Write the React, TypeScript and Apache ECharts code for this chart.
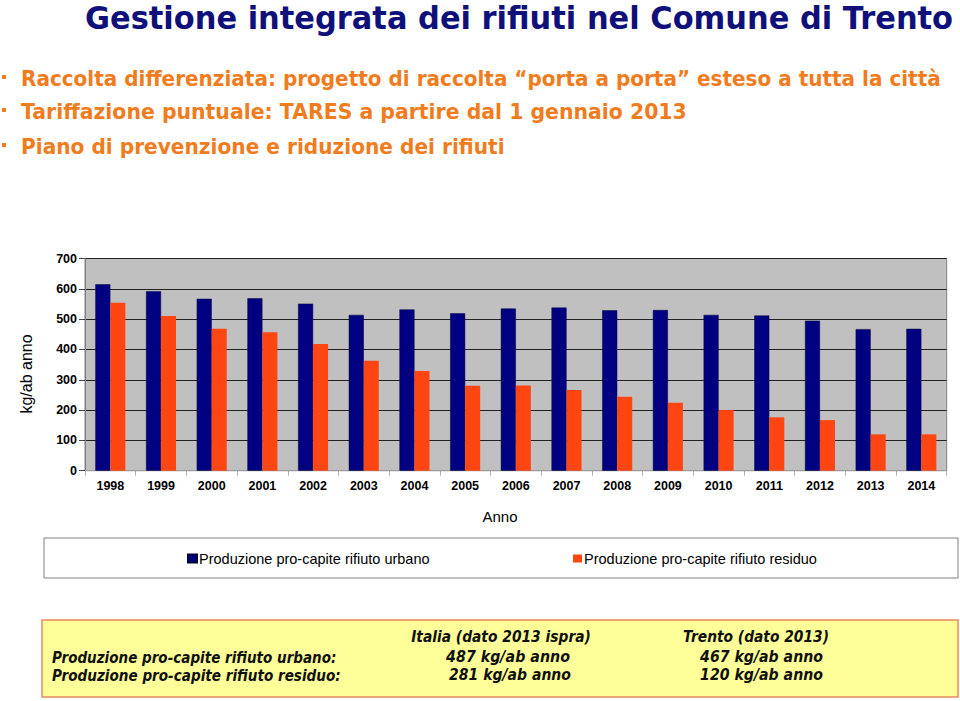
import React, { useEffect, useRef } from "react";
import * as echarts from "echarts";

const years = ["1998","1999","2000","2001","2002","2003","2004","2005","2006","2007","2008","2009","2010","2011","2012","2013","2014"];
const urbano = [615,592,567,569,551,514,532,519,535,538,529,530,514,512,495,467,468];
const residuo = [554,510,468,457,418,363,329,280,281,266,244,224,200,176,167,120,120];
const seriesNames = ["Produzione pro-capite rifiuto urbano", "Produzione pro-capite rifiuto residuo"];
const title = "Gestione integrata dei rifiuti nel Comune di Trento";
const bullets = [
  "Raccolta differenziata: progetto di raccolta \u201Cporta a porta\u201D esteso a tutta la città",
  "Tariffazione puntuale: TARES a partire dal 1 gennaio 2013",
  "Piano di prevenzione e riduzione dei rifiuti",
];
const tableHeaders = ["Italia (dato 2013 ispra)", "Trento (dato 2013)"];
const tableRows = ["Produzione pro-capite rifiuto urbano:", "Produzione pro-capite rifiuto residuo:"];
const italiaValues = ["487 kg/ab anno", "281 kg/ab anno"];
const trentoValues = ["467 kg/ab anno", "120 kg/ab anno"];

const NAVY = "#000080";
const ORANGE = "#FF4512";
const TXT_ORANGE = "#F07C1E";

function measure(text: string, font: string): number {
  const c = document.createElement("canvas").getContext("2d");
  if (!c) return text.length * 10;
  c.font = font;
  return c.measureText(text).width;
}

function fitText(text: string, x: number, y: number, target: number, size: number, opts: any) {
  const weight = opts.weight || "bold";
  const style = opts.italic ? "italic " : "";
  const fam = "DejaVu Sans";
  const w = measure(text, `${style}${weight} ${size}px "${fam}"`);
  const sx = target / w;
  return {
    type: "text",
    x,
    y,
    scaleX: sx,
    z: 10,
    style: {
      text,
      fill: opts.color,
      fontFamily: fam,
      fontWeight: weight,
      fontStyle: opts.italic ? "italic" : "normal",
      fontSize: size,
      textAlign: opts.align || "left",
      textVerticalAlign: "middle",
      verticalAlign: "middle",
    },
  };
}

export default function App() {
  const ref = useRef<HTMLDivElement>(null);
  useEffect(() => {
    if (!ref.current) return;
    const chart = echarts.init(ref.current, null, { renderer: "svg" });
    const bulletY = [78, 111, 146];
    const bulletW = [921, 666, 484];
    const graphic: any[] = [];
    graphic.push(fitText(title, 85, 18, 868, 32, { color: "#10107A" }));
    bullets.forEach((b, i) => {
      graphic.push({ type: "rect", shape: { x: 2, y: bulletY[i] - 3, width: 4, height: 4 }, style: { fill: TXT_ORANGE } });
      graphic.push(fitText(b, 21, bulletY[i], bulletW[i], 22, { color: TXT_ORANGE }));
    });
    graphic.push({
      type: "text", x: 26, y: 374, rotation: Math.PI / 2,
      style: { text: "kg/ab anno", fill: "#000", fontFamily: "Liberation Sans", fontSize: 16, textAlign: "center", textVerticalAlign: "middle", verticalAlign: "middle" },
    });
    graphic.push({
      type: "text", x: 500, y: 516,
      style: { text: "Anno", fill: "#000", fontFamily: "Liberation Sans", fontSize: 15, textAlign: "center", textVerticalAlign: "middle", verticalAlign: "middle" },
    });
    graphic.push({ type: "rect", z: 0, shape: { x: 44, y: 538, width: 914, height: 40 }, style: { fill: "#fff", stroke: "#808080", lineWidth: 1 } });
    graphic.push({ type: "rect", z: 0, shape: { x: 42, y: 620, width: 916, height: 77 }, style: { fill: "#FFFF99", stroke: "#E98A5C", lineWidth: 1.5 } });
    const tc = { color: "#111", italic: true };
    graphic.push(fitText(tableHeaders[0], 501, 637, 180, 16, { ...tc, align: "center" }));
    graphic.push(fitText(tableHeaders[1], 756, 637, 146, 16, { ...tc, align: "center" }));
    graphic.push(fitText(tableRows[0], 52, 657, 285, 16, tc));
    graphic.push(fitText(tableRows[1], 52, 675, 289, 16, tc));
    graphic.push(fitText(italiaValues[0], 508, 657, 124, 16, { ...tc, align: "center" }));
    graphic.push(fitText(italiaValues[1], 510, 675, 122, 16, { ...tc, align: "center" }));
    graphic.push(fitText(trentoValues[0], 761.5, 657, 123, 16, { ...tc, align: "center" }));
    graphic.push(fitText(trentoValues[1], 761.5, 675, 123, 16, { ...tc, align: "center" }));

    const legendCommon = {
      orient: "horizontal",
      top: 551,
      icon: "rect",
      itemWidth: 9,
      itemHeight: 8,
      textStyle: { fontFamily: "Liberation Sans", fontSize: 14.5, color: "#000", padding: [0, 0, 0, -3] },
      z: 20,
    };

    chart.setOption({
      animation: false,
      backgroundColor: "#fff",
      graphic,
      legend: [
        { ...legendCommon, left: 182, top: 546, data: [seriesNames[0]] },
        { ...legendCommon, left: 568, top: 546, data: [seriesNames[1]] },
      ],
      grid: {
        left: 85, top: 258.5, width: 861.7, height: 212.2,
        show: true, backgroundColor: "#C0C0C0", borderColor: "#808080", borderWidth: 1,
      },
      xAxis: {
        type: "category",
        data: years,
        axisLine: { lineStyle: { color: "#9a9a9a" } },
        axisTick: { show: true, alignWithLabel: false, length: 5, lineStyle: { color: "#b0b0b0" } },
        axisLabel: { fontFamily: "Liberation Sans", fontWeight: "bold", fontSize: 12.5, color: "#000", margin: 9 },
      },
      yAxis: {
        type: "value",
        min: 0, max: 700, interval: 100,
        axisLine: { show: true, lineStyle: { color: "#808080" } },
        axisTick: { show: true, length: 6, lineStyle: { color: "#444" } },
        axisLabel: { fontFamily: "Liberation Sans", fontWeight: "bold", fontSize: 12.5, color: "#000", margin: 8 },
        splitLine: { lineStyle: { color: "#222", width: 1 } },
      },
      series: [
        { name: seriesNames[0], type: "bar", data: urbano, barWidth: 15, barGap: "0%", itemStyle: { color: NAVY, borderColor: "#00003a", borderWidth: 0.5 } },
        { name: seriesNames[1], type: "bar", data: residuo, barWidth: 15, barGap: "0%", itemStyle: { color: ORANGE } },
      ],
    });
    return () => chart.dispose();
  }, []);
  return <div ref={ref} style={{ position: "absolute", left: 0, top: 0, width: 960, height: 701 }} />;
}
